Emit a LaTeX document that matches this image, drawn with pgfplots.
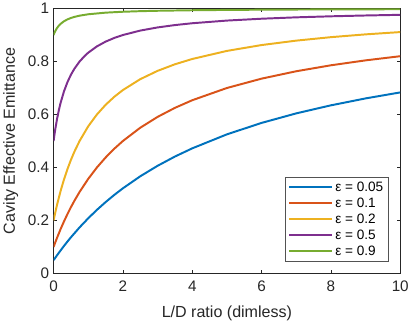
\documentclass[border=0pt]{standalone}
\usepackage{pgfplots}
\pgfplotsset{compat=1.18}
\usepackage{fontspec}
\setmainfont{Liberation Sans}

% MATLAB default line colours
\definecolor{mblue}{rgb}{0,0.447,0.741}
\definecolor{mred}{rgb}{0.850,0.325,0.098}
\definecolor{myellow}{rgb}{0.929,0.694,0.125}
\definecolor{mpurple}{rgb}{0.494,0.184,0.556}
\definecolor{mgreen}{rgb}{0.466,0.674,0.188}
\definecolor{axgray}{rgb}{0.15,0.15,0.15}

\begin{document}
\begin{tikzpicture}
\begin{axis}[
  scale only axis,
  width=352bp, height=269bp,
  xmin=0, xmax=10, ymin=0, ymax=1,
  xtick={0,2,4,6,8,10},
  ytick={0,0.2,0.4,0.6,0.8,1},
  tick align=inside,
  major tick length=3.5bp,
  axis line style={axgray, line width=0.5pt},
  every tick/.style={axgray, line width=0.5pt},
  tick label style={font=\fontsize{15.5bp}{17bp}\selectfont, text=axgray},
  xticklabel style={yshift=-4bp},
  yticklabel style={xshift=-1bp},
  /pgf/number format/assume math mode=true,
  label style={font=\fontsize{16.3bp}{18bp}\selectfont, text=axgray},
  xlabel={L/D ratio (dimless)},
  ylabel={Cavity Effective Emittance},
  xlabel style={yshift=-8bp},
  ylabel style={yshift=3bp},
  every axis plot/.append style={line width=2pt, line join=round},
  legend cell align=left,
  legend image code/.code={\draw[#1, line width=2pt] (0bp,0bp) -- (44bp,0bp);},
  legend style={
    at={(0.966,0.045)}, anchor=south east,
    draw=axgray!80, line width=0.5pt,
    font=\fontsize{13.8bp}{15bp}\selectfont, text=black,
    inner xsep=3bp, inner ysep=2.5bp,
    row sep=1.2bp,
  },
]
% eps = 0.05
\addplot[color=mblue] coordinates {
 (0,0.05) (0.1,0.0686) (0.2,0.0865) (0.3,0.1038) (0.4,0.1204) (0.5,0.1364)
 (0.75,0.1739) (1,0.2083) (1.25,0.24) (1.5,0.2692) (1.75,0.2963) (2,0.3214)
 (2.5,0.3667) (3,0.4063) (3.5,0.4412) (4,0.4722) (5,0.525) (6,0.5682)
 (7,0.6042) (8,0.6346) (9,0.6607) (10,0.6833)};
\addlegendentry{ε = 0.05}
% eps = 0.1
\addplot[color=mred] coordinates {
 (0,0.1) (0.05,0.1176) (0.1,0.1346) (0.2,0.1667) (0.3,0.1964) (0.4,0.2241)
 (0.5,0.25) (0.6,0.2742) (0.75,0.3077) (1,0.3571) (1.25,0.4) (1.5,0.4375)
 (1.75,0.4706) (2,0.5) (2.5,0.55) (3,0.5909) (3.5,0.625) (4,0.6538)
 (5,0.7) (6,0.7353) (7,0.7632) (8,0.7857) (9,0.8043) (10,0.82)};
\addlegendentry{ε = 0.1}
% eps = 0.2
\addplot[color=myellow] coordinates {
 (0,0.2) (0.05,0.2308) (0.1,0.2593) (0.2,0.3103) (0.3,0.3548) (0.4,0.3939)
 (0.5,0.4286) (0.6,0.4595) (0.75,0.5) (1,0.5556) (1.25,0.6) (1.5,0.6364)
 (1.75,0.6667) (2,0.6923) (2.5,0.7333) (3,0.7647) (3.5,0.7895) (4,0.8095)
 (5,0.84) (6,0.8621) (7,0.8788) (8,0.8919) (9,0.9024) (10,0.9111)};
\addlegendentry{ε = 0.2}
% eps = 0.5
\addplot[color=mpurple] coordinates {
 (0,0.5) (0.02,0.5192) (0.05,0.5455) (0.1,0.5833) (0.15,0.6154) (0.2,0.6429)
 (0.3,0.6875) (0.4,0.7222) (0.5,0.75) (0.6,0.7727) (0.75,0.8) (0.9,0.8214)
 (1,0.8333) (1.25,0.8571) (1.5,0.875) (1.75,0.8889) (2,0.9) (2.5,0.9167)
 (3,0.9286) (3.5,0.9375) (4,0.9444) (5,0.9545) (6,0.9615) (7,0.9667)
 (8,0.9706) (9,0.9737) (10,0.9762)};
\addlegendentry{ε = 0.5}
% eps = 0.9
\addplot[color=mgreen] coordinates {
 (0,0.9) (0.01,0.9035) (0.02,0.9067) (0.03,0.9097) (0.05,0.9153) (0.07,0.9201)
 (0.1,0.9265) (0.15,0.9351) (0.2,0.9419) (0.3,0.9519) (0.4,0.959) (0.5,0.9643)
 (0.6,0.9684) (0.75,0.973) (1,0.9783) (1.5,0.9844) (2,0.9878) (2.5,0.99)
 (3,0.9915) (4,0.9935) (5,0.9947) (6,0.9956) (7,0.9962) (8,0.9966)
 (9,0.997) (10,0.9973)};
\addlegendentry{ε = 0.9}
\end{axis}
\useasboundingbox ([shift={(-52bp,-43bp)}]current axis.south west)
  rectangle ([shift={(8bp,6bp)}]current axis.north east);
\end{tikzpicture}
\end{document}
